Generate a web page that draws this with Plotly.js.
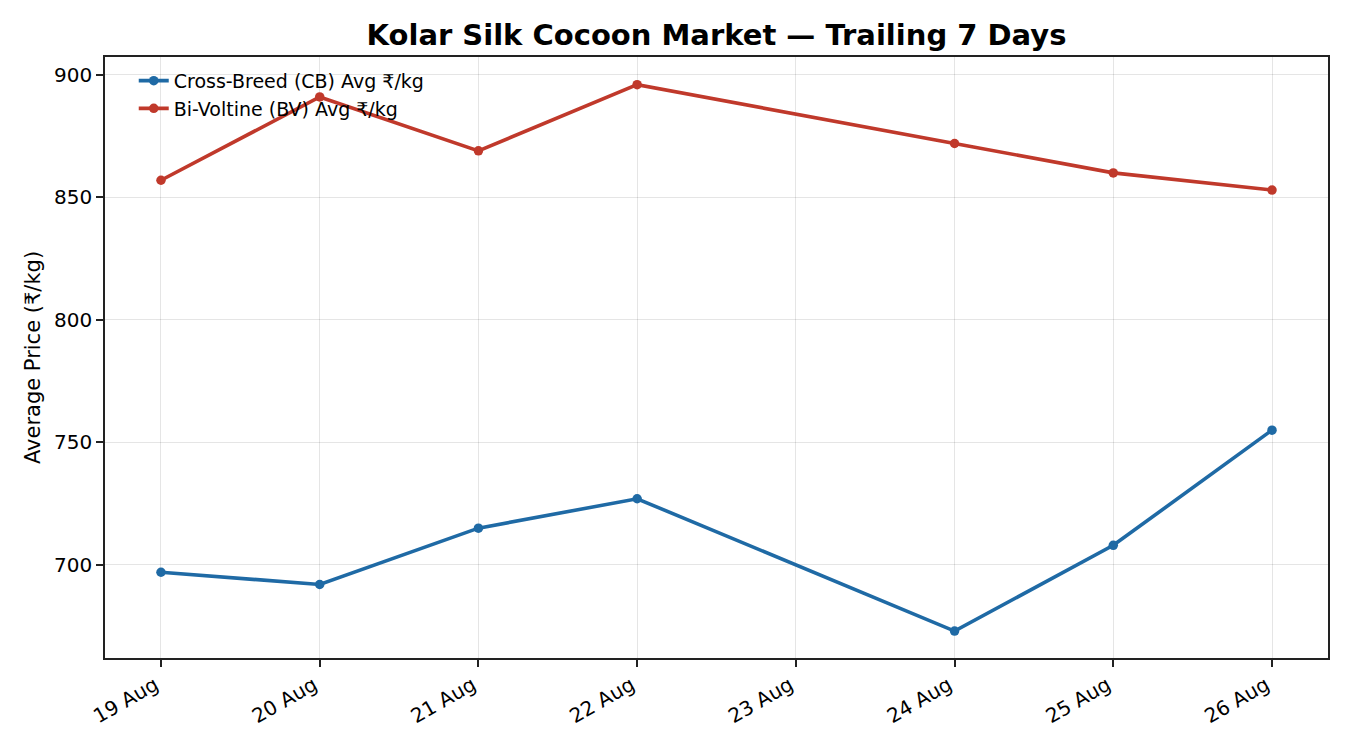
<!DOCTYPE html>
<html><head><meta charset="utf-8">
<script src="https://cdn.plot.ly/plotly-3.0.1.min.js"></script>
<style>html,body{margin:0;padding:0;background:#fff}#chart{width:1350px;height:750px}</style>
</head><body><div id="chart"></div>
<script>
const dates = ['2024-08-19','2024-08-20','2024-08-21','2024-08-22','2024-08-24','2024-08-25','2024-08-26'];
const cbAvg = [697, 692, 715, 727, 673, 708, 755];
const bvAvg = [857, 891, 869, 896, 872, 860, 853];
const tickDates = ['2024-08-19','2024-08-20','2024-08-21','2024-08-22','2024-08-23','2024-08-24','2024-08-25','2024-08-26'];
const tickLabels = ['19 Aug','20 Aug','21 Aug','22 Aug','23 Aug','24 Aug','25 Aug','26 Aug'];

const font = 'DejaVu Sans, sans-serif';
const traces = [
  {x: dates, y: cbAvg, name: 'Cross-Breed (CB) Avg ₹/kg', mode: 'lines+markers', legendgroup: 'cb',
   line: {color: '#1f6aa5', width: 3.6}, marker: {color: '#1f6aa5', size: 9.5}},
  {x: dates, y: bvAvg, name: 'Bi-Voltine (BV) Avg ₹/kg', mode: 'lines+markers', legendgroup: 'bv',
   line: {color: '#c0392b', width: 3.6}, marker: {color: '#c0392b', size: 9.5}}
];
const layout = {
  width: 1350, height: 750,
  margin: {l: 105, r: 22, t: 57, b: 92},
  paper_bgcolor: '#fff', plot_bgcolor: '#fff',
  font: {family: font, color: '#000', size: 20},
  title: {text: '<b>Kolar Silk Cocoon Market — Trailing 7 Days</b>', xref: 'paper', x: 0.5, xanchor: 'center', y: 0.953, yanchor: 'middle',
          font: {family: font, size: 29, color: '#000'}},
  xaxis: {type: 'date', range: ['2024-08-18 15:32', '2024-08-26 08:28'],
          tickvals: tickDates, ticktext: tickLabels, tickangle: -30,
          ticklabelshift: -6, ticklabelstandoff: -1,
          showgrid: true, gridcolor: 'rgba(0,0,0,0.1)', gridwidth: 1,
          showline: true, linecolor: '#222', linewidth: 1.5, mirror: true,
          ticks: 'outside', ticklen: 7, tickcolor: '#222', tickwidth: 1.5, zeroline: false,
          tickfont: {family: font, size: 20, color: '#000'}},
  yaxis: {range: [662, 907.3], tickvals: [700, 750, 800, 850, 900],
          title: {text: 'Average Price (₹/kg)', font: {family: font, size: 21, color: '#000'}, standoff: 8},
          showgrid: true, gridcolor: 'rgba(0,0,0,0.1)', gridwidth: 1,
          showline: true, linecolor: '#222', linewidth: 1.5, mirror: true,
          ticks: 'outside', ticklen: 7, tickcolor: '#222', tickwidth: 1.5, zeroline: false,
          tickfont: {family: font, size: 20, color: '#000'}},
  legend: {x: 0.0235, y: 0.992, xanchor: 'left', yanchor: 'top', bgcolor: 'rgba(255,255,255,0)',
           font: {family: font, size: 19, color: '#000'}, tracegroupgap: 0},
  showlegend: true
};
Plotly.newPlot('chart', traces, layout, {displayModeBar: false});
</script></body></html>
